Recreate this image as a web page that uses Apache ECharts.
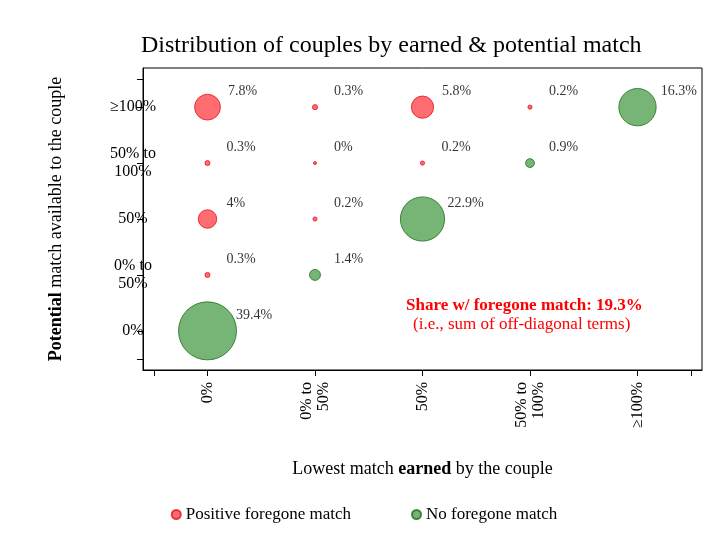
<!DOCTYPE html>
<html><head><meta charset="utf-8">
<script src="https://cdn.jsdelivr.net/npm/echarts@6/dist/echarts.min.js"></script>
<style>html,body{margin:0;padding:0;background:#fff}#c{width:728px;height:552px}</style>
</head><body><div id="c"></div>
<script>
const xLabels = ['0%', '0% to\n50%', '50%', '50% to\n100%', '≥100%'];
const yLabels = ['0%', '0% to\n50%', '50%', '50% to\n100%', '≥100%'];
// [xIndex, yIndex, share %]
const positiveForegone = [
  [0,4,7.8],[1,4,0.3],[2,4,5.8],[3,4,0.2],
  [0,3,0.3],[1,3,0],[2,3,0.2],
  [0,2,4],[1,2,0.2],
  [0,1,0.3]
];
const noForegone = [
  [4,4,16.3],[3,3,0.9],[2,2,22.9],[1,1,1.4],[0,0,39.4]
];
const F = 'Liberation Serif';
function size(v){ return Math.max(3, 58*Math.sqrt(v/39.4)); }
function items(arr){
  return arr.map(d => {
    const s = size(d[2]);
    return {value: d, symbolSize: s,
      label: {show: true, position: 'inside', align: 'left', verticalAlign: 'middle',
        offset: [Math.max(19, 14 + s*0.25), -16],
        formatter: d[2] + '%', color: '#000', fontFamily: F, fontSize: 14}};
  });
}
const chart = echarts.init(document.getElementById('c'));
chart.setOption({
  animation: false,
  title: {text: 'Distribution of couples by earned & potential match', left: 136, top: 29,
    textStyle: {fontFamily: F, fontSize: 24, fontWeight: 'normal', color: '#000'}},
  grid: {left: 143, right: 26, top: 68, bottom: 182, show: true, borderColor: '#000', borderWidth: 1},
  xAxis: {type: 'value', min: -0.6, max: 4.6,
    splitLine: {show: false},
    axisLine: {onZero: false, lineStyle: {color: '#000'}},
    axisTick: {show: true, customValues: [-0.5,0,1,2,3,4,4.5], length: 6, lineStyle: {color: '#000'}},
    axisLabel: {customValues: [0,1,2,3,4], rotate: 90, formatter: v => xLabels[Math.round(v)],
      fontFamily: F, fontSize: 16, color: '#000', margin: 12, lineHeight: 17},
    name: '{n|Lowest match }{b|earned}{n| by the couple}', nameLocation: 'middle', nameGap: 90,
    nameTextStyle: {rich: {n: {fontFamily: F, fontSize: 18, color: '#000'}, b: {fontFamily: F, fontSize: 18, fontWeight: 'bold', color: '#000'}}}
  },
  yAxis: {type: 'value', min: -0.7, max: 4.7,
    splitLine: {show: false},
    axisLine: {onZero: false, lineStyle: {color: '#000'}},
    axisTick: {show: true, customValues: [-0.5,0,1,2,3,4,4.5], length: 6, lineStyle: {color: '#000'}},
    axisLabel: {customValues: [0,1,2,3,4], formatter: v => yLabels[Math.round(v)],
      fontFamily: F, fontSize: 16, color: '#000', margin: 10, lineHeight: 18, align: 'center'},
    name: '{b|Potential}{n| match available to the couple}', nameLocation: 'middle', nameGap: 78, nameRotate: 90,
    nameTextStyle: {rich: {n: {fontFamily: F, fontSize: 18, color: '#000'}, b: {fontFamily: F, fontSize: 18, fontWeight: 'bold', color: '#000'}}}
  },
  legend: {bottom: 24, left: 'center', itemGap: 60, icon: 'circle', itemWidth: 9, itemHeight: 9,
    textStyle: {fontFamily: F, fontSize: 17, color: '#000'},
    data: ['Positive foregone match', 'No foregone match']},
  series: [
    {name: 'Positive foregone match', type: 'scatter', data: items(positiveForegone),
      itemStyle: {color: 'rgba(255,30,40,0.82)', borderColor: '#e8101c', borderWidth: 1}},
    {name: 'No foregone match', type: 'scatter', data: items(noForegone),
      itemStyle: {color: 'rgba(40,140,40,0.8)', borderColor: '#1d6e1d', borderWidth: 1}}
  ],
  graphic: [
    {type: 'text', left: 406, top: 297, style: {text: 'Share w/ foregone match: 19.3%', fill: '#ff0000', font: 'bold 17px "Liberation Serif"'}},
    {type: 'text', left: 413, top: 316, style: {text: '(i.e., sum of off-diagonal terms)', fill: '#ff0000', font: '17px "Liberation Serif"'}}
  ]
});
</script></body></html>
